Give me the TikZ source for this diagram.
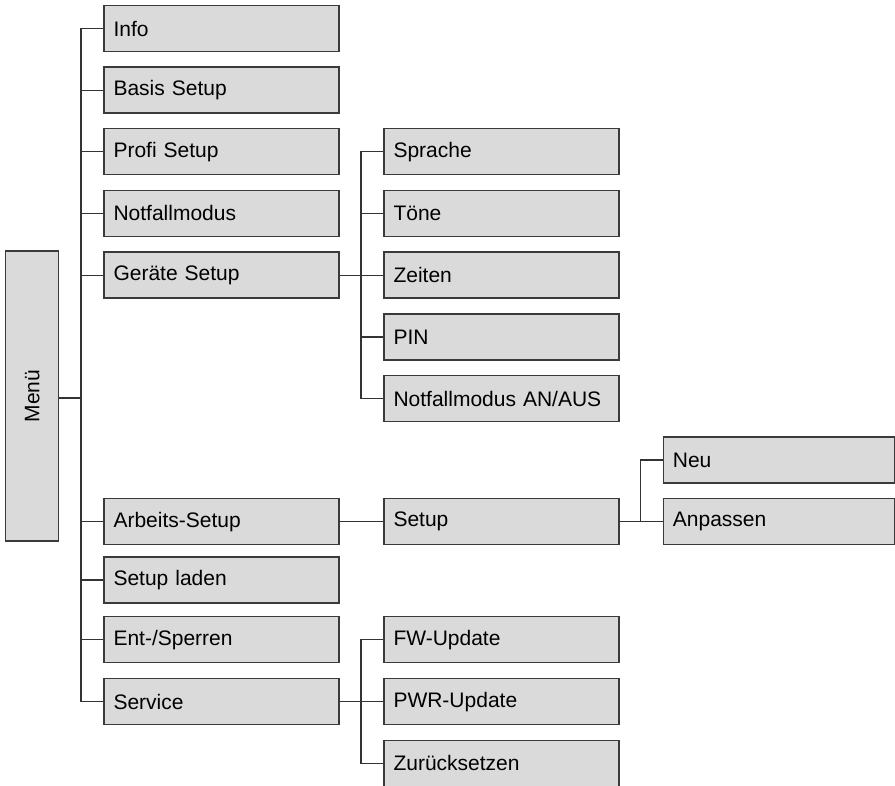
\documentclass[tikz,border=0pt]{standalone}
\usepackage{fontspec}
\setmainfont{Liberation Sans}
\definecolor{boxfill}{HTML}{DADADA}
\definecolor{boxline}{HTML}{3A3A3A}
\definecolor{wire}{HTML}{333333}
\begin{document}
\begin{tikzpicture}[x=1pt,y=-1pt,
  menubox/.style={draw=boxline,fill=boxfill,line width=1.4pt,rectangle,inner sep=0pt,
    anchor=north west,minimum height=46pt,font=\fontsize{21}{24}\selectfont},
  item/.style={menubox,text width=216pt,inner xsep=9.5pt,align=left,minimum width=235pt},
  leaf/.style={menubox,text width=212.5pt,inner xsep=9.5pt,align=left,minimum width=231.5pt},
  wires/.style={draw=wire,line width=1.3pt}]
\useasboundingbox (0,0) rectangle (895,786);

% root
\node[menubox,minimum width=53pt,minimum height=290pt,anchor=center] (menu) at (32.2,396)
  {\rotatebox{90}{Menü}};

% first level
\node[item] (info)    at (103.3,5)   {Info};
\node[item] (basis)   at (103.3,66.5) {Basis Setup};
\node[item] (profi)   at (103.3,128) {Profi Setup};
\node[item] (notf)    at (103.3,189.7) {Notfallmodus};
\node[item] (geraete) at (103.3,251.5) {Geräte Setup};
\node[item] (arbeit)  at (103.3,498) {Arbeits-Setup};
\node[item] (laden)   at (103.3,556.3) {Setup laden};
\node[item] (sperren) at (103.3,616) {Ent-/Sperren};
\node[item] (service) at (103.3,678) {Service};

% device setup entries
\node[item] (sprache) at (383.3,128) {Sprache};
\node[item] (toene)   at (383.3,189.7) {Töne};
\node[item] (zeiten)  at (383.3,251.5) {Zeiten};
\node[item] (pin)     at (383.3,313.3) {PIN};
\node[item] (notan)   at (383.3,375) {Notfallmodus AN/AUS};

% work setup
\node[item] (setup)   at (383.3,498) {Setup};
\node[leaf] (neu)     at (662.7,436.3) {Neu};
\node[leaf] (anpass)  at (662.7,498) {Anpassen};

% service entries
\node[item] (fw)      at (383.3,616) {FW-Update};
\node[item] (pwr)     at (383.3,678) {PWR-Update};
\node[item] (zurueck) at (383.3,739.7) {Zurücksetzen};

% spine positions
\coordinate (s1) at (81,0);
\coordinate (s2) at (361,0);
\coordinate (s3) at (640.7,0);
\coordinate (rootjoin) at (81,398);

% main spine
\draw[wires] (menu.east |- rootjoin) -- (rootjoin);
\draw[wires] (info.west) -- (info.west -| s1) -- (service.west -| s1) -- (service.west);
\foreach \n in {basis,profi,notf,geraete,arbeit,laden,sperren}
  \draw[wires] (\n.west -| s1) -- (\n.west);

% device setup branch
\draw[wires] (geraete.east) -- (zeiten.west);
\draw[wires] (sprache.west) -- (sprache.west -| s2) -- (notan.west -| s2) -- (notan.west);
\foreach \n in {toene,pin}
  \draw[wires] (\n.west -| s2) -- (\n.west);

% work setup branch
\draw[wires] (arbeit.east) -- (setup.west);
\draw[wires] (setup.east) -- (anpass.west);
\draw[wires] (neu.west) -- (neu.west -| s3) -- (anpass.west -| s3);

% service branch
\draw[wires] (service.east) -- (pwr.west);
\draw[wires] (fw.west) -- (fw.west -| s2) -- (zurueck.west -| s2) -- (zurueck.west);
\end{tikzpicture}
\end{document}
